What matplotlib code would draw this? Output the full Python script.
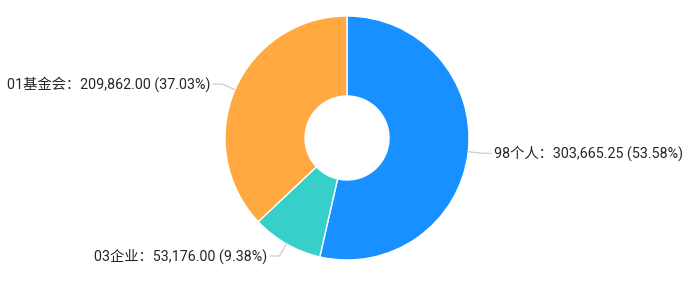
import matplotlib
matplotlib.use('Agg')
import matplotlib.pyplot as plt
import numpy as np

# data
names = ['98个人', '03企业', '01基金会']
values = [303665.25, 53176.00, 209862.00]
colors = ['#1890FF', '#36CFC9', '#FFA940']

plt.rcParams['font.family'] = ['Roboto', 'Noto Sans CJK SC', 'DejaVu Sans']

W, H = 693, 282
fig = plt.figure(figsize=(W / 100, H / 100), dpi=100)
ax = fig.add_axes([0, 0, 1, 1])

cx, cy, r_out, r_in = 347, 138, 122, 42
total = sum(values)

# y axis is flipped, so counterclock=True draws clockwise on screen
wedges, _ = ax.pie(values, colors=colors, startangle=-90, counterclock=True,
                   center=(cx, cy), radius=r_out, frame=True,
                   wedgeprops=dict(width=r_out - r_in, edgecolor='white', linewidth=1))
ax.set_xlim(0, W)
ax.set_ylim(H, 0)
ax.set_aspect('auto')
ax.axis('off')

# labels with leader lines
for w, name, v in zip(wedges, names, values):
    ang = np.deg2rad((w.theta1 + w.theta2) / 2)
    x0 = cx + r_out * np.cos(ang)
    y0 = cy + r_out * np.sin(ang)
    x1 = cx + (r_out + 14) * np.cos(ang)
    y1 = cy + (r_out + 14) * np.sin(ang)
    side = 1 if np.cos(ang) > 0 else -1
    x2 = x1 + side * 9
    ax.plot([x0, x1, x2], [y0, y1, y1], color='#c8c8c8', lw=0.8)
    label = f'{name}：{v:,.2f} ({v / total * 100:.2f}%)'
    ax.text(x2 + side * 3, y1, label, ha='left' if side > 0 else 'right',
            va='center', fontsize=10.3, color='#262626')

fig.savefig('out.png', dpi=100, facecolor='white')
